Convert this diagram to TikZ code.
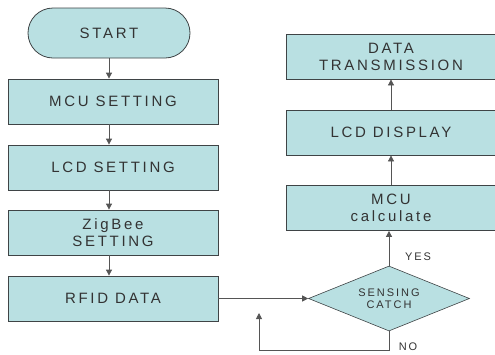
\documentclass[tikz,border=0pt]{standalone}
\usepackage{fontspec}
\setmainfont{Liberation Sans}[LetterSpace=18]
\usetikzlibrary{positioning, calc, arrows.meta, shapes.geometric}
\definecolor{BoxFill}{HTML}{B9E0E2}
\definecolor{Edge}{HTML}{3F4446}
\definecolor{Wire}{HTML}{555555}
\definecolor{Ink}{HTML}{333333}
\tikzset{
    stepbox/.style={rectangle, draw=Edge, fill=BoxFill, text=Ink, align=center, line width=0.8pt, minimum width=210pt, minimum height=45pt, inner sep=0pt, font=\fontsize{15}{17}\selectfont},
    startbox/.style={stepbox, rounded corners=25pt, minimum width=162pt, minimum height=50pt},
    testbox/.style={diamond, aspect=2.5, draw=Edge, fill=BoxFill, text=Ink, align=center, line width=0.6pt, minimum width=161pt, minimum height=65pt, inner sep=0pt, font=\fontsize{11}{12}\selectfont},
    arrow/.style={-{Triangle[length=6pt, width=6pt]}, line width=0.8pt, color=Wire},
    tag/.style={text=Ink, font=\fontsize{11}{12}\selectfont},
}
\begin{document}
\begin{tikzpicture}[x=1pt, y=-1pt]
            \useasboundingbox (0,0) rectangle (495,354);

            % Colonna sinistra: inizializzazione
            \node[startbox] (start) at (109,33) {START};
            \node[stepbox] (mcu) at (113,101.5) {MCU SETTING};
            \node[stepbox] (lcd) at (113,167.5) {LCD SETTING};
            \node[stepbox] (zigbee) at (113,232.5) {ZigBee\\SETTING};
            \node[stepbox] (rfid) at (113,298.5) {RFID DATA};

            % Colonna destra: decisione e uscita
            \node[testbox] (sensing) at (389,298.5) {SENSING\\CATCH};
            \node[stepbox] (calc) at (391,208) {MCU\\calculate};
            \node[stepbox] (display) at (391,132.5) {LCD DISPLAY};
            \node[stepbox] (trans) at (391,56.5) {DATA\\TRANSMISSION};

            % Frecce verso il basso
            \draw[arrow] (start.south) -- (start.south |- mcu.north);
            \draw[arrow] (start.south |- mcu.south) -- (start.south |- lcd.north);
            \draw[arrow] (start.south |- lcd.south) -- (start.south |- zigbee.north);
            \draw[arrow] (start.south |- zigbee.south) -- (start.south |- rfid.north);

            % Verso il rombo e ritorno
            \draw[arrow] (rfid.east) -- (sensing.west);
            \coordinate (back) at (259,313);
            \draw[arrow] (sensing.south) -- (sensing.south |- 0,350) -| (back);
            \node[tag] (no) at (408,347) {NO};

            % Frecce verso l'alto
            \draw[arrow] (sensing.north) -- (sensing.north |- calc.south);
            \node[tag] (yes) at (418,257) {YES};
            \draw[arrow] (calc.north) -- (display.south);
            \draw[arrow] (display.north) -- (trans.south);

        \end{tikzpicture}
\end{document}
